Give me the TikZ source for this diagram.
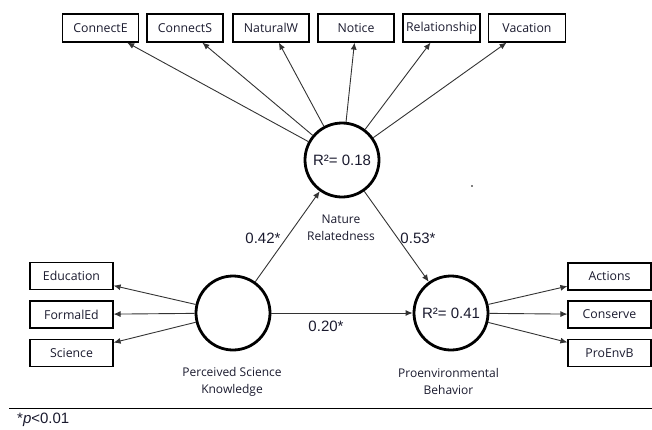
\documentclass[tikz,border=0pt]{standalone}
\usepackage{fontspec}
\setmainfont{Open Sans}
\newfontfamily\arialf{Liberation Sans}
\usetikzlibrary{arrows.meta}
\definecolor{txt}{HTML}{1A1A2E}
\definecolor{lin}{HTML}{333333}
\begin{document}
\begin{tikzpicture}[x=1pt,y=-1pt,
  indbox/.style={draw=black, line width=1.2pt, minimum width=76pt, minimum height=28pt, inner sep=0pt, text=txt, font=\fontsize{12.3}{14}\selectfont},
  sidebox/.style={indbox, minimum width=83pt, minimum height=27pt},
  latent/.style={circle, draw=black, line width=2.8pt, minimum size=74pt, inner sep=0pt, text=txt, font=\arialf\fontsize{15}{17}\selectfont},
  conn/.style={draw=lin, line width=0.9pt, -{Latex[length=7pt,width=6pt]}},
  lbl/.style={text=txt, align=center, font=\fontsize{12}{17}\selectfont},
  coef/.style={text=txt, font=\arialf\fontsize{15}{17}\selectfont}]
\useasboundingbox (0,0) rectangle (652,429);
% top indicators
\node[indbox] (ce) at (100.5,28) {ConnectE};
\node[indbox] (cs) at (185,28) {ConnectS};
\node[indbox] (nw) at (271,28) {NaturalW};
\node[indbox] (no) at (356,28) {Notice};
\node[indbox, minimum width=77pt] (re) at (441.5,28) {Relationship};
\node[indbox, minimum width=77pt] (va) at (527,28) {Vacation};
% left indicators
\node[sidebox] (ed) at (71.5,276) {Education};
\node[sidebox] (fe) at (71.5,314.5) {FormalEd};
\node[sidebox] (sc) at (71.5,353) {Science};
% right indicators
\node[sidebox] (ac) at (609.5,276.5) {Actions};
\node[sidebox] (co) at (609.5,314.5) {Conserve};
\node[sidebox] (pe) at (609.5,353) {ProEnvB};
% latent variables
\node[latent] (nat) at (342,160) {R²= 0.18};
\node[latent] (psk) at (233,313) {};
\node[latent] (peb) at (451,313) {R²= 0.41};
% labels
\node[lbl] (natl) at (341,227.5) {Nature\\Relatedness};
\node[lbl] (pskl) at (232,381.5) {Perceived Science\\Knowledge};
\node[lbl] (pebl) at (448.5,381.5) {Proenvironmental\\Behavior};
% connectors
\foreach \b in {ce,cs,nw,no,re,va} \draw[conn] (nat) -- (\b);
\foreach \b in {ed,fe,sc} \draw[conn] (psk) -- (\b);
\foreach \b in {ac,co,pe} \draw[conn] (peb) -- (\b);
\draw[conn] (psk) -- (nat);
\draw[conn] (nat) -- (peb);
\draw[conn] (psk) -- (peb);
% coefficients
\node[coef] (c1) at (263,238) {0.42*};
\node[coef] (c2) at (418,238) {0.53*};
\node[coef] (c3) at (326,326) {0.20*};
% stray dot
\fill[black] (472,186) circle (0.8);
% footnote
\coordinate (fl) at (9,408);
\coordinate (fr) at (652,408);
\draw[line width=1pt, black] (fl) -- (fr);
\node[anchor=west, text=txt, font=\arialf\fontsize{15}{17}\selectfont, inner sep=0pt] (fn) at (17,420) {*\textit{p}<0.01};
\end{tikzpicture}
\end{document}
